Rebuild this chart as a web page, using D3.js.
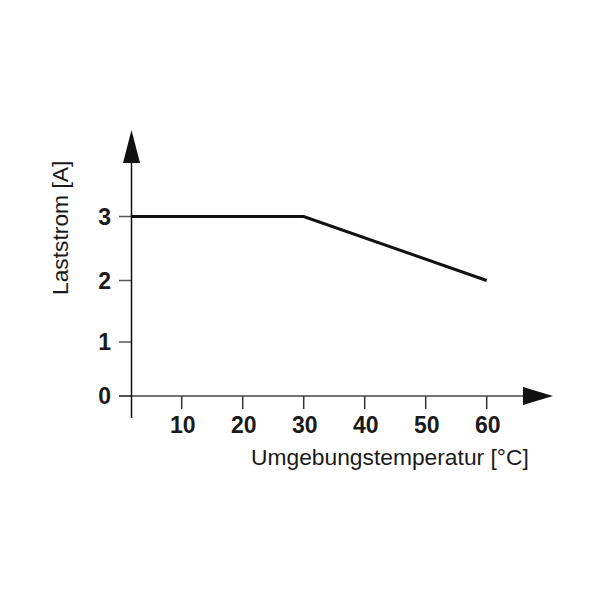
<!DOCTYPE html>
<html><head><meta charset="utf-8">
<script src="https://cdn.jsdelivr.net/npm/d3@7"></script>
<style>body{margin:0;background:#fff}</style>
</head><body>
<svg id="c" width="600" height="600"></svg>
<script>
const temps = [0, 30, 60];
const currents = [3, 3, 2];
const xTicks = [10, 20, 30, 40, 50, 60];
const yTicks = [0, 1, 2, 3];
const xTitle = "Umgebungstemperatur [°C]";
const yTitle = "Laststrom [A]";

const svg = d3.select("#c");
const font = "'Liberation Sans', Arial, Helvetica, sans-serif";
const axisX = 131.5;   // pixel position of vertical axis
const x = d3.scaleLinear().domain([0, 60]).range([120.7, 486.7]);
const y = d3.scaleLinear().domain([0, 1, 2, 3]).range([396, 342, 280.5, 216.5]);

// y ticks
svg.append("g").selectAll("line").data(yTicks).join("line")
  .attr("x1", 119).attr("x2", axisX).attr("y1", d => y(d)).attr("y2", d => y(d))
  .attr("stroke", "#555").attr("stroke-width", 1.5);
svg.append("g").selectAll("text").data(yTicks).join("text")
  .attr("x", 111).attr("y", d => y(d) + 8)
  .attr("text-anchor", "end").attr("font-family", font).attr("font-weight", "bold")
  .attr("font-size", 23).attr("fill", "#1a1a1a").text(d => d);

// x ticks
svg.append("g").selectAll("line").data(xTicks).join("line")
  .attr("x1", d => x(d)).attr("x2", d => x(d)).attr("y1", y(0)).attr("y2", y(0) + 13)
  .attr("stroke", "#333").attr("stroke-width", 1.5);
svg.append("g").selectAll("text").data(xTicks).join("text")
  .attr("x", d => x(d) + 1).attr("y", 433)
  .attr("text-anchor", "middle").attr("font-family", font).attr("font-weight", "bold")
  .attr("font-size", 23).attr("fill", "#1a1a1a").text(d => d);

// x axis line + arrow
svg.append("line").attr("x1", 119).attr("x2", 525).attr("y1", y(0)).attr("y2", y(0))
  .attr("stroke", "#444").attr("stroke-width", 1.5);
svg.append("path")
  .attr("d", `M523,${y(0) - 9}L553,${y(0)}L523,${y(0) + 9}Z`).attr("fill", "#111");

// y axis line + arrow
svg.append("line").attr("x1", axisX).attr("x2", axisX).attr("y1", 160).attr("y2", 418)
  .attr("stroke", "#111").attr("stroke-width", 1.5);
svg.append("path")
  .attr("d", `M${axisX - 8.5},163L${axisX},130L${axisX + 8.5},163Z`).attr("fill", "#111");

// data line (clipped at the vertical axis)
svg.append("clipPath").attr("id", "clip").append("rect")
  .attr("x", axisX).attr("y", 0).attr("width", 600).attr("height", 600);
svg.append("path")
  .datum(temps.map((t, i) => [t, currents[i]]))
  .attr("clip-path", "url(#clip)")
  .attr("d", d3.line().x(d => x(d[0])).y(d => y(d[1])))
  .attr("fill", "none").attr("stroke", "#111").attr("stroke-width", 3);

// titles
svg.append("text").attr("x", 251).attr("y", 465)
  .attr("font-family", font).attr("font-size", 22.8).attr("fill", "#1a1a1a").text(xTitle);
svg.append("text").attr("transform", "translate(68,295) rotate(-90)")
  .attr("font-family", font).attr("font-size", 22.8).attr("fill", "#1a1a1a").text(yTitle);
</script>
</body></html>
